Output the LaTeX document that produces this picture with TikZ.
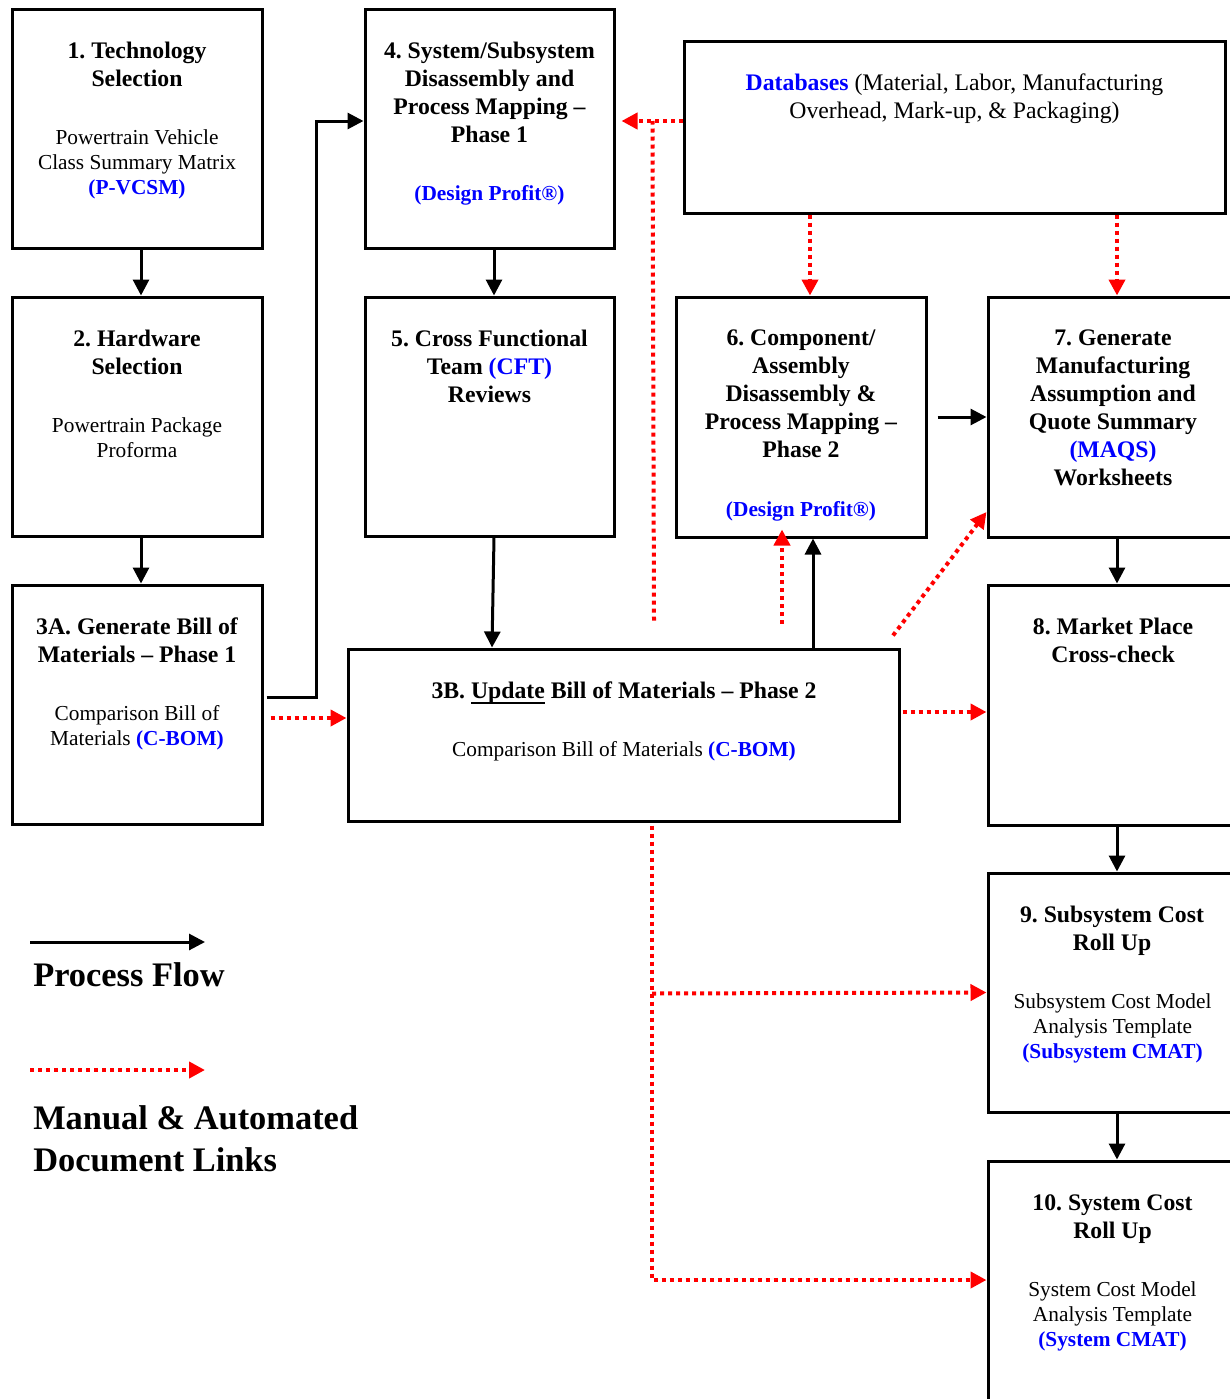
\documentclass[tikz,border=0pt]{standalone}
\usepackage{fontspec}
\setmainfont{Liberation Serif}
\usetikzlibrary{arrows.meta,calc}
\definecolor{lnk}{RGB}{0,0,255}
\definecolor{lred}{RGB}{255,0,0}
\newcommand\myul[1]{\setbox0\hbox{#1}\rlap{\rule[-3.6pt]{\wd0}{1.3pt}}\box0\relax}
\frenchspacing
\begin{document}
\begin{tikzpicture}[x=0.75pt,y=-0.75pt,
  box/.style={draw, line width=2.25pt, rectangle, inner sep=0pt},
  ttl/.style={font=\fontsize{17.8pt}{21pt}\selectfont\bfseries\frenchspacing, align=center, inner sep=0pt, anchor=north},
  bdy/.style={font=\fontsize{16pt}{18.75pt}\selectfont\frenchspacing, align=center, inner sep=0pt, anchor=north},
  dbt/.style={font=\fontsize{17.8pt}{21pt}\selectfont\frenchspacing, align=center, inner sep=0pt, anchor=north},
  leg/.style={font=\fontsize{25.8pt}{31.5pt}\selectfont\bfseries, align=left, inner sep=0pt, anchor=north west},
  flow/.style={draw, line width=2.25pt, -{Triangle[length=12pt,width=12pt]}},
  link/.style={draw=lred, line width=3pt, dash pattern=on 3pt off 3pt},
  linkarr/.style={link, -{Triangle[length=12pt,width=12pt,fill=lred,color=lred]}},
]
\useasboundingbox (0,0) rectangle (1230,1399);
\clip (0,0) rectangle (1230,1399);

% boxes
\node[box, minimum width=250*0.75pt, minimum height=239*0.75pt] (b1) at (137,128.5) {};
\node[box, minimum width=250*0.75pt, minimum height=239*0.75pt] (b2) at (137,416.5) {};
\node[box, minimum width=250*0.75pt, minimum height=239*0.75pt] (b3a) at (137,704.5) {};
\node[box, minimum width=249*0.75pt, minimum height=239*0.75pt] (b4) at (489.5,128.5) {};
\node[box, minimum width=249*0.75pt, minimum height=239*0.75pt] (b5) at (489.5,416.5) {};
\node[box, minimum width=541*0.75pt, minimum height=172*0.75pt] (db) at (954.5,127) {};
\node[box, minimum width=250*0.75pt, minimum height=240*0.75pt] (b6) at (801,417) {};
\node[box, minimum width=250*0.75pt, minimum height=240*0.75pt] (b7) at (1113,417) {};
\node[box, minimum width=551*0.75pt, minimum height=172*0.75pt] (b3b) at (623.5,735) {};
\node[box, minimum width=250*0.75pt, minimum height=240*0.75pt] (b8) at (1113,705) {};
\node[box, minimum width=250*0.75pt, minimum height=239*0.75pt] (b9) at (1113,992.5) {};
\node[box, minimum width=250*0.75pt, minimum height=260*0.75pt] (b10) at (1113,1291) {};

% texts
\node[ttl] (t1) at (137,42) {1. Technology\\Selection};
\node[bdy] (s1) at (137,129.5) {Powertrain Vehicle\\Class Summary Matrix\\\textcolor{lnk}{\textbf{(P-VCSM)}}};
\node[ttl] (t2) at (137,330) {2. Hardware\\Selection};
\node[bdy] (s2) at (137,417.5) {Powertrain Package\\Proforma};
\node[ttl] (t3a) at (137,618) {3A. Generate Bill of\\Materials – Phase 1};
\node[bdy] (s3a) at (137,705.5) {Comparison Bill of\\Materials \textcolor{lnk}{\textbf{(C-BOM)}}};
\node[ttl] (t4) at (489.5,42) {4. System/Subsystem\\Disassembly and\\Process Mapping –\\Phase 1};
\node[bdy] (s4) at (489.5,185.5) {\textcolor{lnk}{\textbf{(Design Profit®)}}};
\node[ttl] (t5) at (489.5,330) {5. Cross Functional\\Team \textcolor{lnk}{(CFT)}\\Reviews};
\node[dbt] (tdb) at (954.5,74) {\textcolor{lnk}{\textbf{Databases}} (Material, Labor, Manufacturing\\Overhead, Mark-up, \& Packaging)};
\node[ttl] (t6) at (801,330) {6. Component/\\Assembly\\Disassembly \&\\Process Mapping –\\Phase 2};
\node[bdy] (s6) at (801,501.5) {\textcolor{lnk}{\textbf{(Design Profit®)}}};
\node[ttl] (t7) at (1113,330) {7. Generate\\Manufacturing\\Assumption and\\Quote Summary\\\textcolor{lnk}{(MAQS)}\\Worksheets};
\node[ttl] (t3b) at (624,682) {3B. \myul{Update} Bill of Materials – Phase 2};
\node[bdy] (s3b) at (624,741.5) {Comparison Bill of Materials \textcolor{lnk}{\textbf{(C-BOM)}}};
\node[ttl] (t8) at (1113,618) {8. Market Place\\Cross-check};
\node[ttl] (t9) at (1112,906) {9. Subsystem Cost\\Roll Up};
\node[bdy] (s9) at (1112.5,993.5) {Subsystem Cost Model\\Analysis Template\\\textcolor{lnk}{\textbf{(Subsystem CMAT)}}};
\node[ttl] (t10) at (1112.5,1194) {10. System Cost\\Roll Up};
\node[bdy] (s10) at (1112.5,1281.5) {System Cost Model\\Analysis Template\\\textcolor{lnk}{\textbf{(System CMAT)}}};

% process flow
\draw[flow] ($(b1.south)+(4,0)$) -- ($(b2.north)+(4,0)$);
\draw[flow] ($(b2.south)+(4,0)$) -- ($(b3a.north)+(4,0)$);
\draw[flow] ($(b4.south)+(4.5,0)$) -- ($(b5.north)+(4.5,0)$);
\draw[flow] ($(b5.south)+(4.5,0)$) -- ($(b3b.north)+(-131.5,0)$);
\draw[flow] ($(b3a.east)+(3,-7.5)$) -- ++(50,0) |- ($(b4.west)+(0,-7.5)$);
\draw[flow] ($(b6.east)+(10,0)$) -- (b7.west);
\draw[flow] ($(b3b.north)+(189.5,0)$) -- ($(b6.south)+(12,0)$);
\draw[flow] ($(b7.south)+(4,0)$) -- ($(b8.north)+(4,0)$);
\draw[flow] ($(b8.south)+(4,0)$) -- ($(b9.north)+(4,0)$);
\draw[flow] ($(b9.south)+(4,0)$) -- ($(b10.north)+(4,0)$);

% document links
\draw[linkarr] ($(b3a.east)+(7,13.5)$) -- ($(b3b.west)+(0,-17)$);
\draw[linkarr] ($(db.west)+(0,-6)$) -- ($(b4.east)+(6,-7.5)$);
\draw[link] ($(b3b.north)+(30.5,-27)$) -- ($(db.west)+(-30,-6)$);
\draw[linkarr] ($(db.south)+(-144.5,0)$) -- ($(b6.north)+(9,0)$);
\draw[linkarr] ($(db.south)+(162.5,0)$) -- ($(b7.north)+(4,0)$);
\draw[linkarr] ($(b3b.north)+(158.5,-24)$) -- ($(b6.south)+(-19,-9)$);
\draw[linkarr] ($(b3b.north)+(269.5,-12)$) -- ($(b7.west)+(0,95)$);
\draw[linkarr] ($(b3b.east)+(2,-23)$) -- ($(b8.west)+(0,7)$);
\draw[linkarr] ($(b3b.south)+(28.5,3)$) |- ($(b10.west)+(0,-11)$);
\draw[linkarr] ($(b3b.south)+(28.5,171)$) -- (b9.west);

% legend
\coordinate (lf1) at (30,942);
\coordinate (lf2) at (205,942);
\draw[flow] (lf1) -- (lf2);
\node[leg] (lg1) at (33,962) {Process Flow};
\coordinate (ll1) at (30,1070);
\coordinate (ll2) at (205,1070);
\draw[linkarr] (ll1) -- (ll2);
\node[leg] (lg2) at (33,1105) {Manual \& Automated\\Document Links};
\end{tikzpicture}
\end{document}
